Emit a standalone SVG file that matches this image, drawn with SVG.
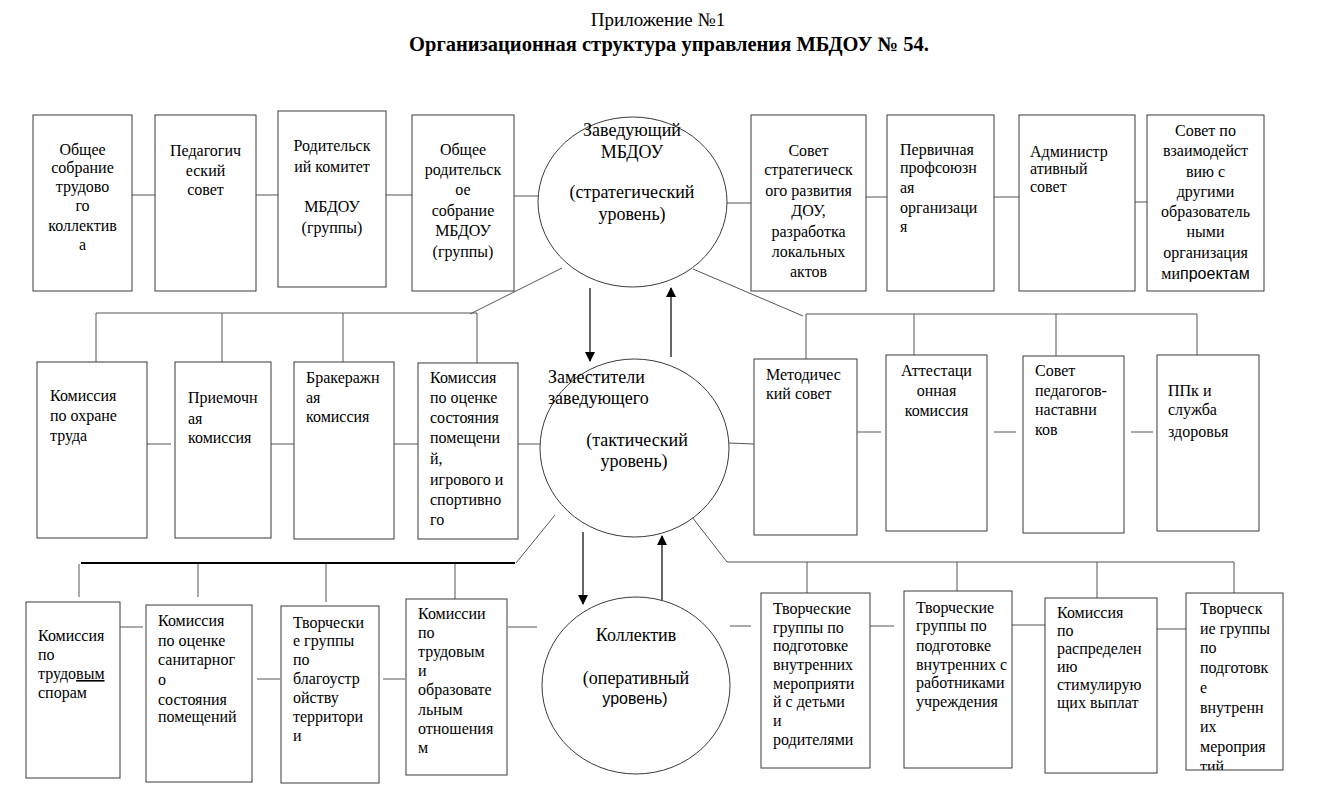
<svg xmlns="http://www.w3.org/2000/svg" width="1321" height="805" viewBox="0 0 1321 805">
<style>
.bx{fill:#fff;stroke:#3a3a3a;stroke-width:1}
.el{fill:#fff;stroke:#3a3a3a;stroke-width:1}
.ln{stroke:#555;stroke-width:1;fill:none}
.thk{stroke:#000;stroke-width:2;fill:none}
.ar{stroke:#000;stroke-width:1.2;fill:none}
text{font-family:"Liberation Serif","Times New Roman",serif;font-size:16px;fill:#000}
.m{text-anchor:middle}
.c{font-size:18px}
.s{font-family:"Liberation Sans",Arial,sans-serif;font-size:16px}
.ttl{font-size:19px}
.b{font-weight:bold;font-size:20.5px}
</style>
<defs>
<marker id="ah" markerWidth="10" markerHeight="10" refX="9" refY="5" orient="auto" markerUnits="userSpaceOnUse">
<path d="M0,0 L10,5 L0,10 z" fill="#000"/>
</marker>
<clipPath id="clipL"><rect x="1186" y="593" width="97" height="177"/></clipPath>
</defs>
<rect width="1321" height="805" fill="#fff"/>

<g id="title">
<text class="m ttl" x="658" y="26">Приложение №1</text>
<text class="m b" x="669" y="51">Организационная структура управления МБДОУ № 54.</text>
</g>

<g id="connectors">
<line class="ln" x1="132" y1="195" x2="155" y2="195"/>
<line class="ln" x1="256" y1="195" x2="278" y2="195"/>
<line class="ln" x1="386" y1="195" x2="412" y2="195"/>
<line class="ln" x1="514" y1="196" x2="538" y2="196"/>
<line class="ln" x1="727" y1="203" x2="751" y2="203"/>
<line class="ln" x1="866" y1="197" x2="887" y2="197"/>
<line class="ln" x1="994" y1="197" x2="1019" y2="197"/>
<line class="ln" x1="1135" y1="202" x2="1147" y2="202"/>
<line class="ar" x1="590" y1="288" x2="590" y2="361" marker-end="url(#ah)"/>
<line class="ar" x1="671" y1="357" x2="671" y2="288" marker-end="url(#ah)"/>
<line class="ln" x1="562" y1="268" x2="470" y2="314"/>
<line class="ln" x1="96" y1="313" x2="477" y2="313"/>
<line class="ln" x1="96" y1="313" x2="96" y2="362"/>
<line class="ln" x1="222" y1="313" x2="222" y2="362"/>
<line class="ln" x1="343" y1="313" x2="343" y2="362"/>
<line class="ln" x1="477" y1="313" x2="477" y2="363"/>
<line class="ln" x1="693" y1="269" x2="803" y2="316"/>
<line class="ln" x1="806" y1="314" x2="1197" y2="314"/>
<line class="ln" x1="806" y1="314" x2="806" y2="359"/>
<line class="ln" x1="914" y1="314" x2="914" y2="355"/>
<line class="ln" x1="1056" y1="314" x2="1056" y2="356"/>
<line class="ln" x1="1197" y1="314" x2="1197" y2="355"/>
<line class="ln" x1="147" y1="444" x2="171" y2="444"/>
<line class="ln" x1="271" y1="444" x2="294" y2="444"/>
<line class="ln" x1="394" y1="444" x2="418" y2="444"/>
<line class="ln" x1="518" y1="444" x2="540" y2="444"/>
<line class="ln" x1="729" y1="443" x2="754" y2="444"/>
<line class="ln" x1="857" y1="432" x2="881" y2="432"/>
<line class="ln" x1="994" y1="432" x2="1016" y2="432"/>
<line class="ln" x1="1131" y1="432" x2="1153" y2="432"/>
<line class="ar" x1="583" y1="532" x2="583" y2="604" marker-end="url(#ah)"/>
<line class="ar" x1="662" y1="605" x2="662" y2="536" marker-end="url(#ah)"/>
<line class="ln" x1="555" y1="515" x2="516" y2="563"/>
<line class="thk" x1="81" y1="563" x2="515" y2="563"/>
<line class="ln" x1="79" y1="564" x2="79" y2="597"/>
<line class="ln" x1="198" y1="564" x2="198" y2="597"/>
<line class="ln" x1="326" y1="564" x2="326" y2="602"/>
<line class="ln" x1="455" y1="564" x2="455" y2="599"/>
<line class="ln" x1="692" y1="517" x2="727" y2="562"/>
<line class="ln" x1="727" y1="562" x2="1234" y2="562"/>
<line class="ln" x1="807" y1="562" x2="807" y2="593"/>
<line class="ln" x1="957" y1="562" x2="957" y2="600"/>
<line class="ln" x1="1097" y1="562" x2="1097" y2="598"/>
<line class="ln" x1="1234" y1="562" x2="1234" y2="593"/>
<line class="ln" x1="120" y1="627" x2="143" y2="627"/>
<line class="ln" x1="257" y1="679" x2="280" y2="679"/>
<line class="ln" x1="383" y1="679" x2="405" y2="679"/>
<line class="ln" x1="508" y1="627" x2="537" y2="627"/>
<line class="ln" x1="730" y1="626" x2="751" y2="626"/>
<line class="ln" x1="870" y1="626" x2="894" y2="626"/>
<line class="ln" x1="1012" y1="625" x2="1045" y2="625"/>
<line class="ln" x1="1157" y1="629" x2="1186" y2="629"/>
</g>

<g id="n1"><rect class="bx" x="33" y="115" width="99" height="176"/>
<text class="m" x="82.5" y="155">Общее</text><text class="m" x="82.5" y="173">собрание</text><text class="m" x="82.5" y="192">трудово</text><text class="m" x="82.5" y="211">го</text><text class="m" x="82.5" y="231">коллектив</text><text class="m" x="82.5" y="250">а</text></g>
<g id="n2"><rect class="bx" x="155" y="115" width="101" height="176"/>
<text class="m" x="205.5" y="156">Педагогич</text><text class="m" x="205.5" y="176">еский</text><text class="m" x="205.5" y="195">совет</text></g>
<g id="n3"><rect class="bx" x="278" y="111" width="108" height="176"/>
<text class="m" x="332" y="151">Родительск</text><text class="m" x="332" y="172">ий комитет</text><text class="m" x="332" y="212">МБДОУ</text><text class="m" x="332" y="233">(группы)</text></g>
<g id="n4"><rect class="bx" x="412" y="115" width="102" height="176"/>
<text class="m" x="463" y="155">Общее</text><text class="m" x="463" y="175">родительск</text><text class="m" x="463" y="195">ое</text><text class="m" x="463" y="216">собрание</text><text class="m" x="463" y="236">МБДОУ</text><text class="m" x="463" y="257">(группы)</text></g>
<g id="c1"><ellipse class="el" cx="632.5" cy="202" rx="94.5" ry="85"/>
<text class="m c" x="632" y="136">Заведующий</text><text class="m c" x="632" y="158">МБДОУ</text><text class="m c" x="632" y="198">(стратегический</text><text class="m c" x="632" y="220">уровень)</text></g>
<g id="n5"><rect class="bx" x="751" y="115" width="115" height="176"/>
<text class="m" x="808.5" y="156">Совет</text><text class="m" x="808.5" y="175">стратегическ</text><text class="m" x="808.5" y="196">ого развития</text><text class="m" x="808.5" y="216">ДОУ,</text><text class="m" x="808.5" y="237">разработка</text><text class="m" x="808.5" y="257">локальных</text><text class="m" x="808.5" y="277">актов</text></g>
<g id="n6"><rect class="bx" x="887" y="115" width="107" height="176"/>
<text x="900" y="155">Первичная</text><text x="900" y="173">профсоюзн</text><text x="900" y="193">ая</text><text x="900" y="213">организаци</text><text x="900" y="232">я</text></g>
<g id="n7"><rect class="bx" x="1019" y="115" width="116" height="176"/>
<text x="1030" y="157">Администр</text><text x="1030" y="174">ативный</text><text x="1030" y="192">совет</text></g>
<g id="n8"><rect class="bx" x="1147" y="115" width="117" height="176"/>
<text class="m" x="1205.5" y="136">Совет по</text><text class="m" x="1205.5" y="156">взаимодейст</text><text class="m" x="1205.5" y="177">вию с</text><text class="m" x="1205.5" y="197">другими</text><text class="m" x="1205.5" y="217">образователь</text><text class="m" x="1205.5" y="237">ными</text><text class="m" x="1205.5" y="258">организация</text><text class="m" x="1205.5" y="279">ми<tspan class="s">проектам</tspan></text></g>

<g id="mA"><rect class="bx" x="37" y="362" width="110" height="176"/>
<text x="50" y="401">Комиссия</text><text x="50" y="421">по охране</text><text x="50" y="441">труда</text></g>
<g id="mB"><rect class="bx" x="175" y="362" width="96" height="176"/>
<text x="188" y="403">Приемочн</text><text x="188" y="424">ая</text><text x="188" y="443">комиссия</text></g>
<g id="mC"><rect class="bx" x="294" y="362" width="100" height="177"/>
<text x="306" y="383">Бракеражн</text><text x="306" y="403">ая</text><text x="306" y="422">комиссия</text></g>
<g id="mD"><rect class="bx" x="418" y="363" width="100" height="176"/>
<text x="430" y="383">Комиссия</text><text x="430" y="403">по оценке</text><text x="430" y="423">состояния</text><text x="430" y="443">помещени</text><text x="430" y="464">й,</text><text x="430" y="485">игрового и</text><text x="430" y="505">спортивно</text><text x="430" y="525">го</text></g>
<g id="c2"><ellipse class="el" cx="634.5" cy="448" rx="94.5" ry="89"/>
<text class="c" x="548" y="383">Заместители</text><text class="c" x="548" y="404">заведующего</text><text class="m c" x="637" y="446">(тактический</text><text class="m c" x="634" y="467">уровень)</text></g>
<g id="mM1"><rect class="bx" x="754" y="359" width="103" height="176"/>
<text x="766" y="380">Методичес</text><text x="766" y="399">кий совет</text></g>
<g id="mM2"><rect class="bx" x="886" y="355" width="101" height="176"/>
<text class="m" x="936.5" y="376">Аттестаци</text><text class="m" x="936.5" y="396">онная</text><text class="m" x="936.5" y="416">комиссия</text></g>
<g id="mM3"><rect class="bx" x="1023" y="356" width="101" height="177"/>
<text x="1035" y="376">Совет</text><text x="1035" y="396">педагогов-</text><text x="1035" y="415">наставни</text><text x="1035" y="435">ков</text></g>
<g id="mM4"><rect class="bx" x="1157" y="355" width="102" height="176"/>
<text x="1168" y="396">ППк и</text><text x="1168" y="415">служба</text><text x="1168" y="437">здоровья</text></g>

<g id="bE"><rect class="bx" x="26" y="602" width="94" height="176"/>
<text x="38" y="641">Комиссия</text><text x="38" y="660">по</text><text x="38" y="679">трудо<tspan text-decoration="underline">вым</tspan></text><text x="38" y="698">спорам</text></g>
<g id="bF"><rect class="bx" x="146" y="605" width="106" height="177"/>
<text x="158" y="626">Комиссия</text><text x="158" y="646">по оценке</text><text x="158" y="665">санитарног</text><text x="158" y="685">о</text><text x="158" y="705">состояния</text><text x="158" y="722">помещений</text></g>
<g id="bG"><rect class="bx" x="281" y="606" width="98" height="177"/>
<text x="293" y="628">Творчески</text><text x="293" y="646">е группы</text><text x="293" y="665">по</text><text x="293" y="684">благоустр</text><text x="293" y="703">ойству</text><text x="293" y="722">территори</text><text x="293" y="741">и</text></g>
<g id="bH"><rect class="bx" x="406" y="599" width="101" height="176"/>
<text x="418" y="619">Комиссии</text><text x="418" y="638">по</text><text x="418" y="657">трудовым</text><text x="418" y="676">и</text><text x="418" y="695">образовате</text><text x="418" y="715">льным</text><text x="418" y="734">отношения</text><text x="418" y="753">м</text></g>
<g id="c3"><ellipse class="el" cx="636" cy="685.5" rx="94" ry="88.5"/>
<text class="m c" x="636" y="641">Коллектив</text><text class="m c" x="636" y="684">(оперативный</text><text class="m s" x="635" y="704">уровень)</text></g>
<g id="bI"><rect class="bx" x="761" y="593" width="109" height="175"/>
<text x="773" y="614">Творческие</text><text x="773" y="633">группы по</text><text x="773" y="651">подготовке</text><text x="773" y="670">внутренних</text><text x="773" y="689">мероприяти</text><text x="773" y="707">й с детьми</text><text x="773" y="726">и</text><text x="773" y="745">родителями</text></g>
<g id="bJ"><rect class="bx" x="904" y="591" width="108" height="177"/>
<text x="916" y="613">Творческие</text><text x="916" y="631">группы по</text><text x="916" y="651">подготовке</text><text x="916" y="670">внутренних с</text><text x="916" y="688">работниками</text><text x="916" y="707">учреждения</text></g>
<g id="bK"><rect class="bx" x="1045" y="598" width="112" height="175"/>
<text x="1057" y="618">Комиссия</text><text x="1057" y="636">по</text><text x="1057" y="654">распределен</text><text x="1057" y="672">ию</text><text x="1057" y="690">стимулирую</text><text x="1057" y="708">щих выплат</text></g>
<g id="bL"><rect class="bx" x="1186" y="593" width="97" height="177"/>
<g clip-path="url(#clipL)">
<text x="1200" y="614">Творческ</text><text x="1200" y="633.7">ие группы</text><text x="1200" y="653.4">по</text><text x="1200" y="673">подготовк</text><text x="1200" y="692.8">е</text><text x="1200" y="712.5">внутренн</text><text x="1200" y="732">их</text><text x="1200" y="752">мероприя</text><text x="1200" y="771.6">тий</text></g></g>
</svg>
